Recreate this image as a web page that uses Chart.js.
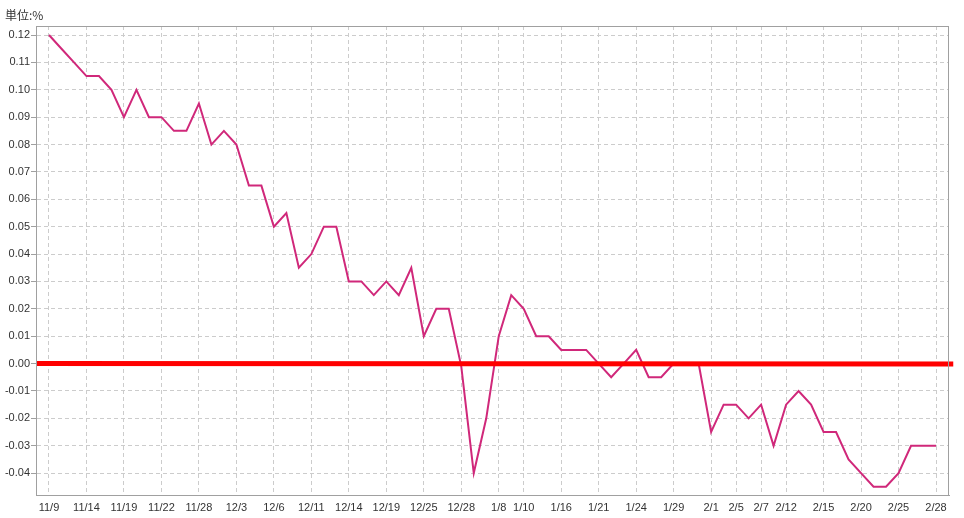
<!DOCTYPE html>
<html>
<head>
<meta charset="utf-8">
<script src="https://cdn.jsdelivr.net/npm/chart.js@4/dist/chart.umd.min.js"></script>
<style>
body{margin:0;background:#fff}
#wrap{position:relative;width:964px;height:518px}
#unit{position:absolute;left:5px;top:6px;font:12px "Noto Sans CJK JP","Liberation Sans",sans-serif;color:#333}
</style>
</head>
<body>
<div id="wrap"><div id="unit">単位:%</div><canvas id="c"></canvas></div>
<script>
// series values, one per trading day
const vals=[0.12,0.115,0.11,0.105,0.105,0.10,0.09,0.10,0.09,0.09,
 0.085,0.085,0.095,0.08,0.085,0.08,0.065,0.065,0.05,0.055,
 0.035,0.04,0.05,0.05,0.03,0.03,0.025,0.03,0.025,0.035,
 0.01,0.02,0.02,-0.001,-0.04,-0.02,0.01,0.025,0.02,0.01,
 0.01,0.005,0.005,0.005,0.0,-0.005,0.0,0.005,-0.005,-0.005,
 0.0,0.0,0.0,-0.025,-0.015,-0.015,-0.02,-0.015,-0.03,-0.015,
 -0.01,-0.015,-0.025,-0.025,-0.035,-0.04,-0.045,-0.045,-0.04,-0.03,
 -0.03,-0.03];
// x tick positions (point index) and their labels
const tickIdx=[0,3,6,9,12,15,18,21,24,27,30,33,36,38,41,44,47,50,53,55,57,59,62,65,68,71];
const tickLbl=['11/9','11/14','11/19','11/22','11/28','12/3','12/6','12/11','12/14','12/19','12/25','12/28','1/8','1/10','1/16','1/21','1/24','1/29','2/1','2/5','2/7','2/12','2/15','2/20','2/25','2/28'];
const yTicks=[0.12,0.11,0.10,0.09,0.08,0.07,0.06,0.05,0.04,0.03,0.02,0.01,0,-0.01,-0.02,-0.03,-0.04];
// red reference line, start and end
const refX=[-1.04,72.38],refY=[0,-0.00012];

const pts=vals.map(function(v,i){return{x:i,y:v}});
const ref=refX.map(function(x,i){return{x:x,y:refY[i]}});
const F={family:'"Liberation Sans",Arial,sans-serif',size:11};

// frame round the plot area
const box={id:'box',afterDraw:function(ch){
 var a=ch.chartArea,c=ch.ctx;c.save();c.strokeStyle='#a0a0a0';c.lineWidth=1;
 c.strokeRect(a.left+0.5,a.top+0.5,a.right-a.left-1,a.bottom-a.top);c.restore()
}};

new Chart(document.getElementById('c'),{
 type:'line',
 data:{datasets:[
  {data:ref,borderColor:'#ff0000',borderWidth:5,pointRadius:0,clip:false,order:0},
  {data:pts,borderColor:'#d0287a',borderWidth:2,pointRadius:0,tension:0,order:1}
 ]},
 options:{responsive:true,maintainAspectRatio:false,animation:false,
  layout:{padding:{top:26,right:15,left:0,bottom:0}},
  plugins:{legend:{display:false},tooltip:{enabled:false}},
  scales:{
   x:{type:'linear',min:-1.04,max:72.04,
    afterBuildTicks:function(s){s.ticks=tickIdx.map(function(v){return{value:v}})},
    afterFit:function(s){s.height=23},
    grid:{color:'#cccccc',drawTicks:false},
    border:{color:'#a0a0a0',dash:[4,3]},
    ticks:{autoSkip:false,maxRotation:0,padding:6,color:'#333',font:F,
     callback:function(v){var k=tickIdx.indexOf(v);return k<0?'':tickLbl[k]}}},
   y:{min:-0.048,max:0.1233,
    afterBuildTicks:function(s){s.ticks=yTicks.map(function(v){return{value:v}})},
    afterFit:function(s){s.width=36},
    grid:{color:'#cccccc',tickLength:5,tickColor:'#a0a0a0'},
    border:{color:'#a0a0a0',dash:[4,3]},
    ticks:{padding:1,color:'#333',font:F,callback:function(v){return v.toFixed(2)}}}
  }},
 plugins:[box]
});
</script>
</body>
</html>
